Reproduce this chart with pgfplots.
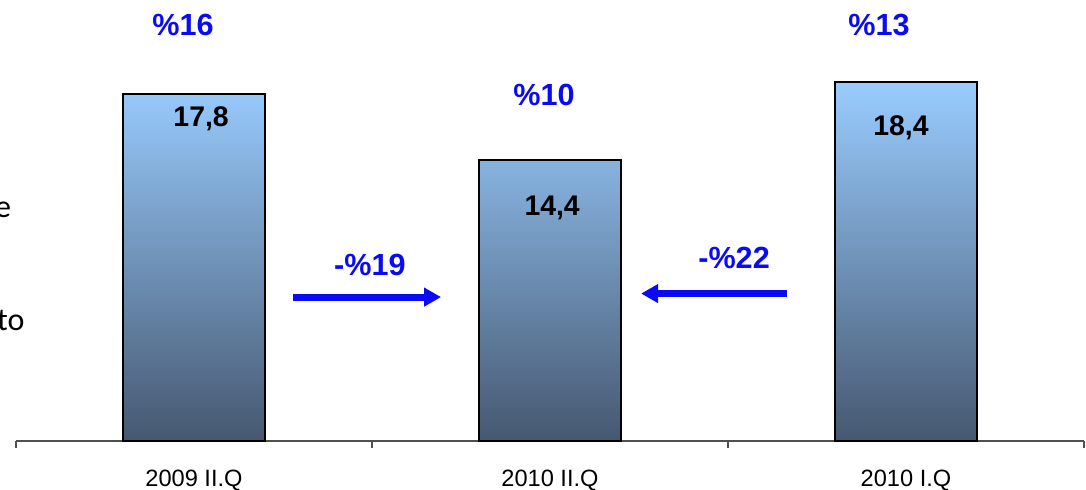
\documentclass[border=0pt]{standalone}
\usepackage{fontspec}
\setmainfont{Liberation Sans}
\newfontfamily\notefont{Carlito}
\usepackage{pgfplots}
\pgfplotsset{compat=1.18}
\usetikzlibrary{arrows.meta}

\definecolor{bartop}{RGB}{153,204,255}
\definecolor{barbottom}{RGB}{70,88,112}
\definecolor{axisgray}{RGB}{80,80,80}
\definecolor{chgblue}{RGB}{10,10,245}

\begin{document}
\begin{tikzpicture}
\useasboundingbox (-8pt,-24.5pt) rectangle (535pt,220.5pt);
\begin{axis}[
  at={(0,0)}, anchor=south west,
  scale only axis,
  width=534pt, height=220.5pt,
  xmin=-0.5, xmax=2.5,
  ymin=0, ymax=22.615,
  clip=false,
  axis x line=bottom,
  axis y line=none,
  axis line style={axisgray, line width=0.7pt, -},
  xtick={0,1,2},
  xticklabels={2009 II.Q,2010 II.Q,2010 I.Q},
  major x tick style={draw=none},
  minor xtick={-0.5,0.5,1.5,2.5},
  minor x tick style={axisgray, line width=0.7pt},
  minor tick length=3.5pt,
  tick align=outside,
  xticklabel style={anchor=base, yshift=-18.5pt, font=\fontsize{11.8}{13}\selectfont},
]
\addplot[ybar, bar width=71pt, draw=black, line width=1pt,
         top color=bartop, bottom color=barbottom]
  coordinates {(0,17.8) (1,14.4) (2,18.4)};

% values inside the bars
\node[anchor=base, font=\fontsize{14.2}{16}\selectfont\bfseries] at (axis cs:0.020,16.15) {17,8};
\node[anchor=base, font=\fontsize{14.2}{16}\selectfont\bfseries] at (axis cs:1.006,11.54) {14,4};
\node[anchor=base, font=\fontsize{14.2}{16}\selectfont\bfseries] at (axis cs:1.986,15.69) {18,4};

% shares above the bars
\node[anchor=base, text=chgblue, font=\fontsize{15.3}{17}\selectfont\bfseries] at (axis cs:-0.031,20.77) {\%16};
\node[anchor=base, text=chgblue, font=\fontsize{15.3}{17}\selectfont\bfseries] at (axis cs:0.983,17.23) {\%10};
\node[anchor=base, text=chgblue, font=\fontsize{15.3}{17}\selectfont\bfseries] at (axis cs:1.924,20.77) {\%13};

% period-over-period changes
\node[anchor=base, text=chgblue, font=\fontsize{15.3}{17}\selectfont\bfseries] at (axis cs:0.494,8.51) {-\%19};
\node[anchor=base, text=chgblue, font=\fontsize{15.3}{17}\selectfont\bfseries] at (axis cs:1.517,8.87) {-\%22};
\draw[chgblue, line width=3.5pt, -{Triangle[length=8.5pt,width=9pt]}]
  (axis cs:0.278,7.38) -- (axis cs:0.694,7.38);
\draw[chgblue, line width=3.5pt, -{Triangle[length=8.5pt,width=9pt]}]
  (axis cs:1.666,7.56) -- (axis cs:1.256,7.56);

% text running in from the left margin
\node[anchor=base east, inner sep=0pt, font=\notefont\fontsize{16}{18}\selectfont] at (axis cs:-0.513,11.44) {e};
\node[anchor=base east, inner sep=0pt, font=\notefont\fontsize{16}{18}\selectfont] at (axis cs:-0.475,5.69) {to};
\end{axis}
\end{tikzpicture}
\end{document}
